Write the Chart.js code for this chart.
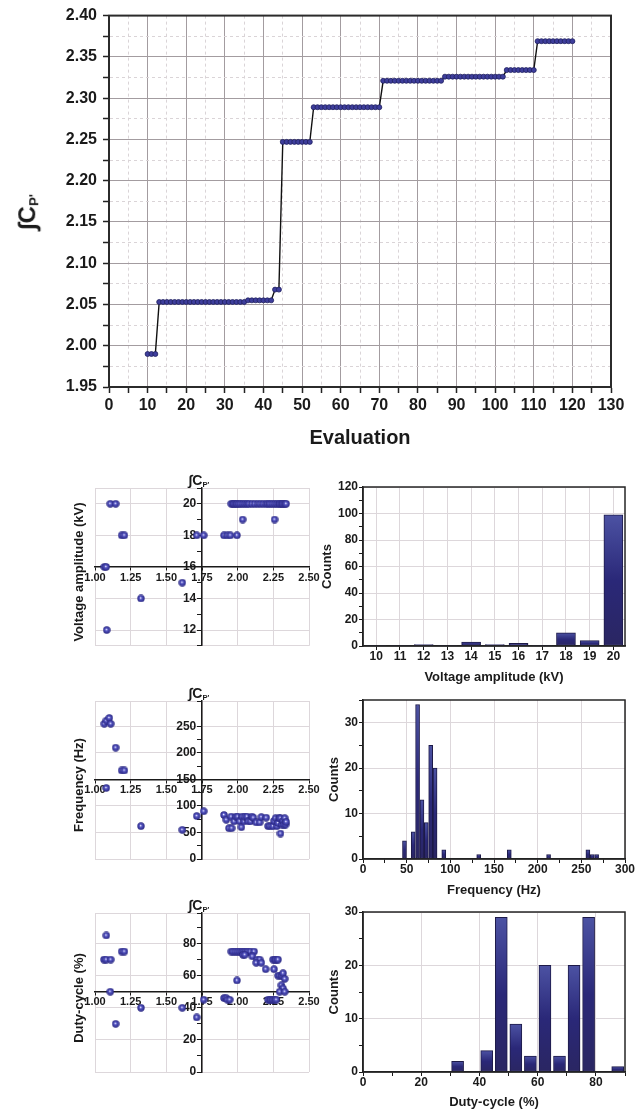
<!DOCTYPE html>
<html>
<head>
<meta charset="utf-8">
<script src="https://cdn.jsdelivr.net/npm/chart.js@4.4.1/dist/chart.umd.min.js"></script>
<style>
  body { margin: 0; background: #fff; width: 635px; height: 1113px; position: relative; overflow: hidden;
         font-family: "Liberation Sans", Arial, sans-serif; font-weight: bold; color: #1a1a1a; }
  canvas { position: absolute; }
  .lbl { position: absolute; white-space: nowrap; line-height: 1; }
  .lbl sub { font-size: 55%; vertical-align: -0.25em; }
  .rot { transform: translate(-50%, -50%) rotate(-90deg); }
  .ctr { transform: translate(-50%, -50%); }
</style>
</head>
<body>
<canvas id="cpChart" width="635" height="460" style="left:0;top:0"></canvas>

<canvas id="voltScatter" width="322" height="190" style="left:0;top:465px"></canvas>
<canvas id="voltHist" width="320" height="215" style="left:315px;top:470px"></canvas>
<canvas id="freqScatter" width="322" height="190" style="left:0;top:680px"></canvas>
<canvas id="freqHist" width="320" height="215" style="left:315px;top:690px"></canvas>
<canvas id="dutyScatter" width="322" height="190" style="left:0;top:895px"></canvas>
<canvas id="dutyHist" width="320" height="213" style="left:315px;top:900px"></canvas>

<div class="lbl rot" style="left:28px;top:212px;font-size:24px">∫C<sub>P'</sub></div>
<div class="lbl ctr" style="left:199px;top:481px;font-size:14px">∫C<sub>P'</sub></div>
<div class="lbl ctr" style="left:199px;top:694px;font-size:14px">∫C<sub>P'</sub></div>
<div class="lbl ctr" style="left:199px;top:906px;font-size:14px">∫C<sub>P'</sub></div>
<div class="lbl rot" style="left:78px;top:572px;font-size:13px">Voltage amplitude (kV)</div>
<div class="lbl rot" style="left:78px;top:785px;font-size:13px">Frequency (Hz)</div>
<div class="lbl rot" style="left:78px;top:998px;font-size:13px">Duty-cycle (%)</div>

<script>
// best value found so far, per evaluation
const evaluation = [
  10, 11, 12, 13, 14, 15, 16, 17, 18, 19, 20, 21, 22, 23, 24, 25, 26, 27, 28, 29,
  30, 31, 32, 33, 34, 35, 36, 37, 38, 39, 40, 41, 42, 43, 44, 45, 46, 47, 48, 49,
  50, 51, 52, 53, 54, 55, 56, 57, 58, 59, 60, 61, 62, 63, 64, 65, 66, 67, 68, 69,
  70, 71, 72, 73, 74, 75, 76, 77, 78, 79, 80, 81, 82, 83, 84, 85, 86, 87, 88, 89,
  90, 91, 92, 93, 94, 95, 96, 97, 98, 99, 100, 101, 102, 103, 104, 105, 106, 107, 108, 109,
  110, 111, 112, 113, 114, 115, 116, 117, 118, 119, 120,
];
const cpValues = [
  1.990, 1.990, 1.990,
  2.053, 2.053, 2.053, 2.053, 2.053, 2.053, 2.053, 2.053, 2.053, 2.053,
  2.053, 2.053, 2.053, 2.053, 2.053, 2.053, 2.053, 2.053, 2.053, 2.053,
  2.053, 2.053, 2.053,
  2.055, 2.055, 2.055, 2.055, 2.055, 2.055, 2.055,
  2.068, 2.068,
  2.247, 2.247, 2.247, 2.247, 2.247, 2.247, 2.247, 2.247,
  2.289, 2.289, 2.289, 2.289, 2.289, 2.289, 2.289, 2.289, 2.289,
  2.289, 2.289, 2.289, 2.289, 2.289, 2.289, 2.289, 2.289, 2.289,
  2.321, 2.321, 2.321, 2.321, 2.321, 2.321, 2.321, 2.321,
  2.321, 2.321, 2.321, 2.321, 2.321, 2.321, 2.321, 2.321,
  2.326, 2.326, 2.326, 2.326, 2.326, 2.326, 2.326, 2.326,
  2.326, 2.326, 2.326, 2.326, 2.326, 2.326, 2.326, 2.326,
  2.334, 2.334, 2.334, 2.334, 2.334, 2.334, 2.334, 2.334,
  2.369, 2.369, 2.369, 2.369, 2.369, 2.369, 2.369, 2.369, 2.369, 2.369,
];

// scatter: CP' against each parameter
const cpVoltage = [
  1.065, 1.078, 1.082, 1.107, 1.145, 1.187, 1.206, 1.322, 1.612, 1.713, 1.762, 1.904, 1.928, 1.949, 1.995, 2.035, 2.259,
  1.955, 1.965, 1.975, 1.985, 1.995, 2.008, 2.020, 2.035, 2.050, 2.065, 2.080, 2.100, 2.120, 2.140,
  2.160, 2.180, 2.200, 2.215, 2.230, 2.245, 2.260, 2.275, 2.290, 2.300, 2.310, 2.320, 2.330, 2.340,
];
const voltageValues = [
  16, 16, 12, 20, 20, 18, 18, 14, 15, 18, 18, 18, 18, 18, 18, 19, 19,
  20, 20, 20, 20, 20, 20, 20, 20, 20, 20, 20, 20, 20, 20,
  20, 20, 20, 20, 20, 20, 20, 20, 20, 20, 20, 20, 20, 20,
];
const cpFrequency = [
  1.065, 1.080, 1.100, 1.110, 1.145, 1.187, 1.206, 1.079, 1.322, 1.612, 1.713, 1.762,
  1.904, 1.920, 1.939, 1.958, 1.955, 1.975, 1.990, 2.000, 2.014, 2.026,
  2.033, 2.045, 2.050, 2.065, 2.075, 2.090, 2.100, 2.110, 2.130, 2.154,
  2.166, 2.200, 2.213, 2.230, 2.248, 2.255, 2.266, 2.275, 2.283, 2.290,
  2.300, 2.300, 2.310, 2.318, 2.325, 2.330, 2.336, 2.340,
];
const frequencyValues = [
  255, 261, 266, 255, 210, 167, 167, 134, 62, 55, 81, 90,
  83, 74, 58, 58, 80, 71, 80, 80, 71, 60,
  80, 71, 80, 80, 71, 71, 80, 78, 69, 69,
  79, 78, 62, 62, 62, 72, 77, 62, 68, 77,
  77, 48, 65, 72, 65, 77, 65, 70,
];
const cpDuty = [
  1.079, 1.063, 1.079, 1.110, 1.107, 1.145, 1.187, 1.206, 1.322, 1.612, 1.713, 1.762, 1.904, 1.920, 1.928, 1.944, 1.995,
  1.955, 1.970, 1.985, 2.000, 2.015, 2.030, 2.045, 2.060, 2.075, 2.090, 2.115,
  2.037, 2.050, 2.103, 2.138, 2.154, 2.130, 2.166, 2.196, 2.248, 2.260,
  2.271, 2.283, 2.255, 2.283, 2.300, 2.313, 2.318, 2.330, 2.306, 2.318,
  2.294, 2.330, 2.213, 2.225, 2.236, 2.248, 2.260, 2.271,
];
const dutyValues = [
  85, 70, 70, 70, 50, 30, 75, 75, 40, 40, 34, 45, 46, 46, 45, 45, 57,
  75, 75, 75, 75, 75, 75, 75, 75, 75, 75, 75,
  73, 73, 72, 70, 70, 68, 68, 64, 70, 70,
  70, 70, 64, 60, 60, 60, 61.5, 58, 54, 52,
  50, 50, 45, 45, 45, 45, 45, 45,
];

// histograms
const voltageBins = [10, 11, 12, 13, 14, 15, 16, 17, 18, 19, 20];
const voltageCounts = [0, 0, 1, 0, 3, 1, 2, 0, 10, 4, 99];
const frequencyBins = [47.5, 57.5, 62.5, 67.5, 72.5, 77.5, 82.5, 92.5, 132.5, 167.5, 212.5, 257.5, 262.5, 267.5];
const frequencyCounts = [4, 6, 34, 13, 8, 25, 20, 2, 1, 2, 1, 2, 1, 1];
const dutyBins = [32.5, 42.5, 47.5, 52.5, 57.5, 62.5, 67.5, 72.5, 77.5, 87.5];
const dutyCounts = [2, 4, 29, 9, 3, 20, 3, 20, 29, 1];

Chart.defaults.font.family = '"Liberation Sans", Arial, sans-serif';
Chart.defaults.font.weight = 'bold';
Chart.defaults.color = '#1a1a1a';

const GRID_MAJOR = '#a39ca0';
const GRID_MINOR = '#dad4d7';
const GRID_LIGHT = '#ddd7db';
const NONE = 'rgba(0,0,0,0)';
const INK = '#1a1a1a';

const near = (v, step) => Math.abs(v / step - Math.round(v / step)) < 1e-6;

// box round the plot area
Chart.register({
  id: 'frame',
  afterDraw(chart, args, opts) {
    if (!opts.color) return;
    const { ctx, chartArea: a } = chart;
    ctx.save();
    ctx.strokeStyle = opts.color;
    ctx.lineWidth = opts.width;
    ctx.strokeRect(a.left, a.top, a.right - a.left, a.bottom - a.top);
    ctx.restore();
  },
});

// little shaded ball used as scatter marker
function makeSphere(d) {
  const c = document.createElement('canvas');
  c.width = d;
  c.height = d;
  const g = c.getContext('2d');
  const r = d / 2;
  const grad = g.createRadialGradient(r - 0.4, r - 0.6, 0.2, r, r, r);
  grad.addColorStop(0, '#e8e8ff');
  grad.addColorStop(0.3, '#5656c4');
  grad.addColorStop(1, '#23217a');
  g.fillStyle = grad;
  g.beginPath();
  g.arc(r, r, r - 0.3, 0, Math.PI * 2);
  g.fill();
  return c;
}
const sphere = makeSphere(8);

function barGradient(c) {
  const { chart, raw } = c;
  if (!chart.chartArea || !raw) return '#33308a';
  const yScale = chart.scales.y;
  const top = yScale.getPixelForValue(raw.y);
  const bottom = yScale.getPixelForValue(0);
  if (bottom - top < 1) return '#33308a';
  const g = chart.ctx.createLinearGradient(0, top, 0, bottom);
  g.addColorStop(0, '#4c52a3');
  g.addColorStop(0.5, '#2a2878');
  g.addColorStop(1, '#2a2662');
  return g;
}

/////////////////////// CONVERGENCE ///////////////////////
new Chart(document.getElementById('cpChart'), {
  type: 'line',
  data: {
    datasets: [
      {
        data: evaluation.map((e, i) => ({ x: e, y: cpValues[i] })),
        borderColor: '#111',
        borderWidth: 1.4,
        pointRadius: 2.5,
        pointBackgroundColor: '#3e3e9c',
        pointBorderColor: '#20205e',
        pointBorderWidth: 0.8,
      },
    ],
  },
  options: {
    responsive: false,
    animation: false,
    layout: { padding: { top: 14, right: 24, bottom: 0, left: 0 } },
    plugins: { legend: { display: false }, tooltip: { enabled: false }, frame: { color: '#2b2b2b', width: 2 } },
    scales: {
      x: {
        type: 'linear',
        min: 0,
        max: 130,
        afterFit: (s) => { s.height = 73; },
        ticks: { stepSize: 5, autoSkip: false, maxRotation: 0, padding: 3, font: { size: 16 },
          callback: (v) => (near(v, 10) ? v : '') },
        grid: { color: (c) => (c.tick && near(c.tick.value, 10) ? GRID_MAJOR : GRID_MINOR),
          tickColor: '#222', tickLength: 6, tickWidth: 1.5 },
        border: { color: '#222', width: 2, dash: (c) => (c.tick && !near(c.tick.value, 10) ? [3, 3] : []) },
        title: { display: true, text: 'Evaluation', font: { size: 20 }, padding: { top: 0, bottom: 10 } },
      },
      y: {
        min: 1.95,
        max: 2.4,
        afterFit: (s) => { s.width = 109; },
        ticks: { stepSize: 0.025, autoSkip: false, padding: 6, font: { size: 16 },
          callback: (v) => (near(v, 0.05) ? v.toFixed(2) : '') },
        grid: { color: (c) => (c.tick && near(c.tick.value, 0.05) ? GRID_MAJOR : GRID_MINOR),
          tickColor: '#222', tickLength: 6, tickWidth: 1.5 },
        border: { color: '#222', width: 2, dash: (c) => (c.tick && !near(c.tick.value, 0.05) ? [3, 3] : []) },
      },
    },
  },
});

/////////////////////// SCATTERS ///////////////////////
function scatterChart(id, xs, ys, o) {
  new Chart(document.getElementById(id), {
    type: 'scatter',
    data: { datasets: [{ data: xs.map((x, i) => ({ x, y: ys[i] })), pointStyle: sphere, pointRadius: 4 }] },
    options: {
      responsive: false,
      animation: false,
      layout: { padding: o.pad },
      plugins: { legend: { display: false }, tooltip: { enabled: false } },
      scales: {
        x: {
          type: 'linear',
          min: 1,
          max: 2.5,
          position: { y: o.cross },
          ticks: { stepSize: 0.25, autoSkip: false, maxRotation: 0, padding: 1, font: { size: 11 },
            callback: (v) => v.toFixed(2) },
          grid: { color: GRID_LIGHT, tickColor: INK, tickLength: 3 },
          border: { color: INK, width: 1.5 },
        },
        y: {
          min: o.min,
          max: o.max,
          position: { x: 1.75 },
          // labels of a value-positioned axis sit right on the line, so pad with a space
          ticks: { stepSize: o.step, autoSkip: false, padding: 2, font: { size: 12 },
            callback: (v) => (near(v, o.labelStep) ? v + ' \u2009' : '') },
          grid: {
            color: (c) => (c.tick && (near(c.tick.value, o.labelStep) || c.tick.value === o.min || c.tick.value === o.max)
              ? GRID_LIGHT : NONE),
            tickColor: INK,
            tickLength: 4,
          },
          border: { color: INK, width: 1.5 },
        },
      },
    },
  });
}

scatterChart('voltScatter', cpVoltage, voltageValues,
  { pad: { left: 95, right: 13, top: 23, bottom: 9 }, cross: 16, min: 11, max: 21, step: 1, labelStep: 2 });
scatterChart('freqScatter', cpFrequency, frequencyValues,
  { pad: { left: 95, right: 13, top: 21, bottom: 11 }, cross: 150, min: 0, max: 298, step: 25, labelStep: 50 });
scatterChart('dutyScatter', cpDuty, dutyValues,
  { pad: { left: 95, right: 13, top: 18, bottom: 13 }, cross: 50, min: 0, max: 99, step: 10, labelStep: 20 });

/////////////////////// HISTOGRAMS ///////////////////////
function histogram(id, bins, counts, o) {
  new Chart(document.getElementById(id), {
    type: 'bar',
    data: {
      datasets: [
        {
          data: bins.map((b, i) => ({ x: b, y: counts[i] })),
          backgroundColor: barGradient,
          borderColor: '#1d1a48',
          borderWidth: (c) => (c.raw && c.raw.y > 0 ? 1 : 0),
          borderSkipped: false,
          barThickness: o.barThickness,
        },
      ],
    },
    options: {
      responsive: false,
      animation: false,
      layout: { padding: { top: o.padTop, right: 10, bottom: 0, left: 0 } },
      plugins: { legend: { display: false }, tooltip: { enabled: false }, frame: { color: '#262626', width: 1.5 } },
      scales: {
        x: {
          type: 'linear',
          min: o.xMin,
          max: o.xMax,
          offset: false,
          afterFit: (s) => { s.height = o.xHeight; },
          afterBuildTicks: o.xTicks ? (s) => { s.ticks = o.xTicks.map((v) => ({ value: v })); } : undefined,
          ticks: { stepSize: o.xStep, autoSkip: false, maxRotation: 0, padding: -1, font: { size: 12 },
            callback: (v) => (near(v, o.xLabelStep) ? v : '') },
          grid: { offset: false, color: (c) => (c.tick && near(c.tick.value, o.xGridStep) ? GRID_LIGHT : NONE),
            tickColor: INK, tickLength: 4 },
          border: { color: INK, width: 1.5 },
          title: { display: true, text: o.xTitle, font: { size: 13 }, padding: { top: 0, bottom: o.xTitlePad } },
        },
        y: {
          min: 0,
          max: o.yMax,
          afterFit: (s) => { s.width = 48; },
          ticks: { stepSize: o.yStep, autoSkip: false, padding: 1, font: { size: 12 },
            callback: (v) => (near(v, o.yLabelStep) ? v : '') },
          grid: { color: (c) => (c.tick && c.tick.value > 0 && near(c.tick.value, o.yLabelStep) ? GRID_LIGHT : NONE),
            tickColor: INK, tickLength: 4 },
          border: { color: INK, width: 1.5 },
          title: { display: true, text: 'Counts', font: { size: 13 }, padding: { top: o.yTitlePad, bottom: 0 } },
        },
      },
    },
  });
}

histogram('voltHist', voltageBins, voltageCounts, {
  barThickness: 19, padTop: 17, xMin: 9.44, xMax: 20.49, xTicks: voltageBins, xStep: 1, xLabelStep: 1, xGridStep: 1,
  xHeight: 39, xTitle: 'Voltage amplitude (kV)', xTitlePad: 0, yMax: 120, yStep: 10, yLabelStep: 20, yTitlePad: 5,
});
histogram('freqHist', frequencyBins, frequencyCounts, {
  barThickness: 4, padTop: 10, xMin: 0, xMax: 300, xStep: 25, xLabelStep: 50, xGridStep: 50,
  xHeight: 46, xTitle: 'Frequency (Hz)', xTitlePad: 7, yMax: 35, yStep: 5, yLabelStep: 10, yTitlePad: 12,
});
histogram('dutyHist', dutyBins, dutyCounts, {
  barThickness: 12, padTop: 12, xMin: 0, xMax: 90, xStep: 10, xLabelStep: 20, xGridStep: 20,
  xHeight: 41, xTitle: 'Duty-cycle (%)', xTitlePad: 3, yMax: 30, yStep: 5, yLabelStep: 10, yTitlePad: 12,
});
</script>
</body>
</html>
